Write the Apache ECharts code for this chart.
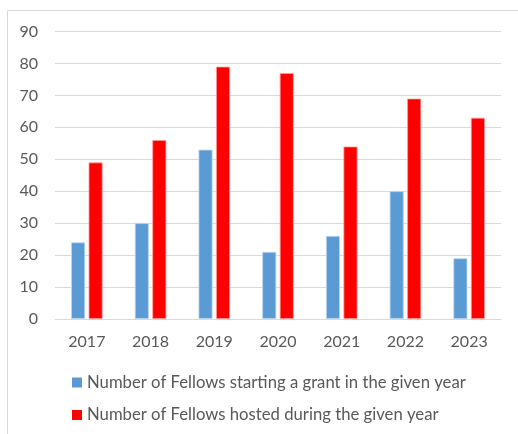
<!DOCTYPE html>
<html><head><meta charset="utf-8">
<script src="https://cdn.jsdelivr.net/npm/echarts@6/dist/echarts.min.js"></script>
<style>html,body{margin:0;padding:0;background:#fff}#c{width:518px;height:434px}</style>
</head><body><div id="c"></div>
<script>
const years = ['2017','2018','2019','2020','2021','2022','2023'];
const starting = [24, 30, 53, 21, 26, 40, 19];
const hosted = [49, 56, 79, 77, 54, 69, 63];
const seriesNames = ['Number of Fellows starting a grant in the given year','Number of Fellows hosted during the given year'];
const yTicks = {min: 0, max: 90, interval: 10};

const chart = echarts.init(document.getElementById('c'), null, {renderer: 'canvas'});
const font = 'Lato, "Open Sans", sans-serif';
chart.setOption({
  animation: false,
  textStyle: {fontFamily: font},
  graphic: [{type: 'polyline', shape: {points: [[7.5, 434], [7.5, 10.5], [518, 10.5]]}, style: {fill: 'none', stroke: '#D9D9D9', lineWidth: 1}, silent: true, z: -1}],
  grid: {left: 55, right: 17, top: 31.5, bottom: 115, containLabel: false},
  legend: {
    orient: 'vertical', left: 72, top: 374, padding: 0, itemWidth: 10, itemHeight: 10, itemGap: 15.5, icon: 'rect',
    itemStyle: {borderWidth: 0},
    textStyle: {fontFamily: font, fontSize: 16.7, color: '#595959'}
  },
  xAxis: {
    type: 'category', data: years,
    axisLine: {lineStyle: {color: '#D9D9D9'}}, axisTick: {show: false},
    axisLabel: {fontSize: 16, color: '#595959', margin: 15, fontFamily: font}
  },
  yAxis: {
    type: 'value', min: yTicks.min, max: yTicks.max, interval: yTicks.interval,
    axisLine: {show: false}, axisTick: {show: false},
    splitLine: {lineStyle: {color: '#D9D9D9'}},
    axisLabel: {fontSize: 16, color: '#595959', margin: 17, fontFamily: font}
  },
  series: [
    {name: seriesNames[0], type: 'bar', data: starting, barWidth: 14, barGap: '25%',
     itemStyle: {color: '#5B9BD5', borderColor: '#BDD7EE', borderWidth: 0.8}},
    {name: seriesNames[1], type: 'bar', data: hosted, barWidth: 14,
     itemStyle: {color: '#FF0000', borderColor: '#FF9999', borderWidth: 0.8}}
  ]
});
</script></body></html>
